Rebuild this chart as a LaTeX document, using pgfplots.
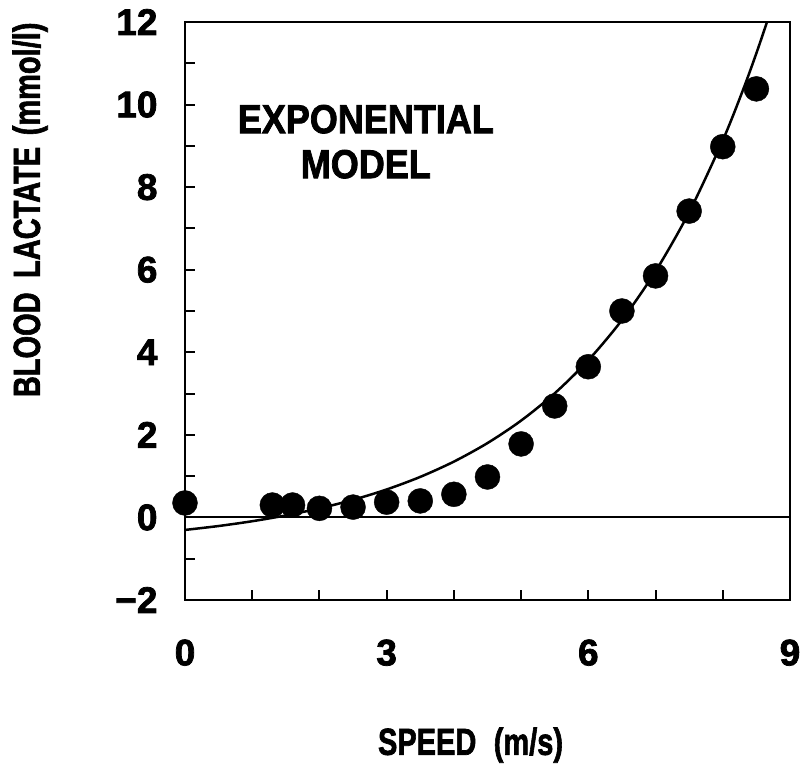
\documentclass[border=0pt]{standalone}
\usepackage{fontspec}
\setmainfont{Liberation Sans}
\newfontfamily\heavy{Liberation Sans}[UprightFont={* Bold}, FakeBold=2]
\usepackage{pgfplots}
\pgfplotsset{compat=1.18}
\begin{document}
\begin{tikzpicture}
\begin{axis}[
  scale only axis, width=605pt, height=578pt,
  xmin=0, xmax=9, ymin=-2, ymax=12,
  clip=false,
  axis line style={black, line width=2.5pt},
  tick style={line width=2pt, black},
  tick align=inside, tick pos=left,
  major tick length=10pt,
  xtick={0,1,2,3,4,5,6,7,8,9},
  xticklabels={0,,,3,,,6,,,9},
  ytick={-2,-1,0,1,2,3,4,5,6,7,8,9,10,11,12},
  yticklabels={−2,,0,,2,,4,,6,,8,,10,,12},
  /pgf/number format/assume math mode=true,
  ticklabel style={font=\fontsize{37}{42}\selectfont\heavy},
  xticklabel style={yshift=-36pt},
  yticklabel style={xshift=-24pt},
  xlabel={\scalebox{1}[1.3]{SPEED\hspace{0.6em}(m/s)}},
  ylabel={\scalebox{1}[1.3]{BLOOD\hspace{0.5em}LACTATE\hspace{0.4em}(mmol/l)}},
  label style={font=\fontsize{29}{35}\selectfont\heavy},
  xlabel style={at={(axis description cs:0.472,-0.251)}, anchor=center},
  ylabel style={at={(axis description cs:-0.256,0.675)}, anchor=center},
]
\addplot[black, line width=2.6pt, line join=miter] coordinates {(0,-2) (0,12) (9,12) (9,-2) (0,-2)} -- cycle;
\addplot[black, line width=2pt] coordinates {(0,0) (9,0)};
\addplot[black, line width=2.5pt, smooth] coordinates {
(0,-0.303) (0.5,-0.208) (1.0,-0.092) (1.5,0.049) (2.0,0.219) (2.5,0.426)
(3.0,0.677) (3.5,0.982) (4.0,1.352) (4.5,1.801) (5.0,2.345) (5.5,3.006)
(6.0,3.808) (6.5,4.781) (7.0,5.962) (7.5,7.394) (8.0,9.133) (8.3,10.35) (8.5,11.243)
(8.658,12)};
\addplot[only marks, mark=*, mark size=12.5pt, black] coordinates {
(0,0.35) (1.3,0.3) (1.6,0.3) (2.0,0.22) (2.5,0.25) (3.0,0.37) (3.5,0.4)
(4.0,0.56) (4.5,0.98) (5.0,1.78) (5.5,2.7) (6.0,3.65) (6.5,5.0)
(7.0,5.85) (7.5,7.42) (8.0,8.98) (8.5,10.38)};
\node[align=center, font=\fontsize{36}{45}\selectfont\heavy] at (axis cs:2.69,9.1) {\scalebox{1}[1.12]{EXPONENTIAL}\\\scalebox{1}[1.12]{MODEL}};
\coordinate (SW) at (rel axis cs:0,0);
\end{axis}
\pgfresetboundingbox
\path[use as bounding box] (SW) ++(-185pt,-178pt) rectangle ++(804pt,778pt);
\end{tikzpicture}
\end{document}
